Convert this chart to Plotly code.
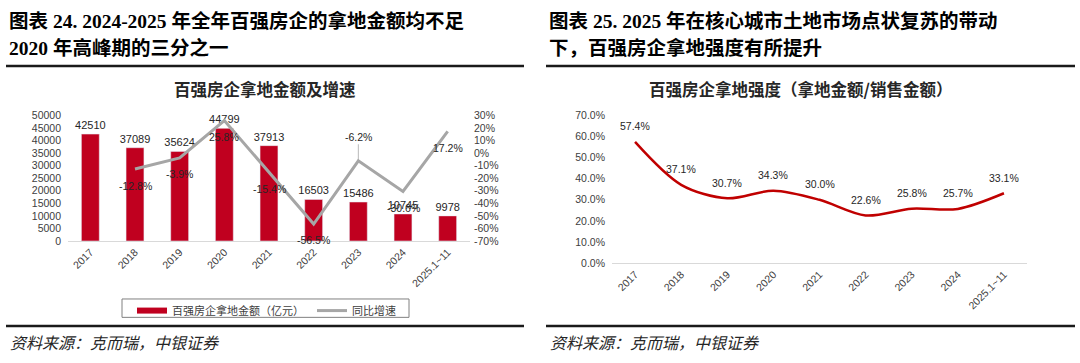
import plotly.graph_objects as go

# ---------------- data ----------------
categories = ["2017", "2018", "2019", "2020", "2021", "2022", "2023", "2024", "2025.1~11"]
land_amount = [42510, 37089, 35624, 44799, 37913, 16503, 15486, 10745, 9978]          # 亿元
yoy_growth = [None, -12.8, -3.9, 25.8, -15.4, -56.5, -6.2, -30.6, 17.2]                # %
land_intensity = [57.4, 37.1, 30.7, 34.3, 30.0, 22.6, 25.8, 25.7, 33.1]                # %

left_y_ticks = list(range(0, 50001, 5000))
right_y2_ticks = list(range(-70, 31, 10))
intensity_ticks = list(range(0, 71, 10))

# ---------------- style ----------------
W, H = 1080, 363
RED_BAR = "#C0001F"
RED_LINE = "#C00000"
GREY_LINE = "#A6A6A6"
TXT = "#404040"
LAB = "#262626"
SANS = "Liberation Sans, Noto Sans CJK SC, sans-serif"
CJK = "Noto Sans CJK SC, Liberation Sans, sans-serif"
SERIF = "Liberation Serif, Noto Sans CJK SC, serif"


def px(x):
    return x / W


def py(y):
    return 1 - y / H


fig = go.Figure()

# left chart: bars
fig.add_trace(go.Bar(
    x=categories, y=land_amount, marker_color=RED_BAR, width=0.4,
    text=[str(v) for v in land_amount], textposition="outside", constraintext="none",
    textfont=dict(size=11, color=LAB, family=SANS), cliponaxis=False,
    showlegend=False, xaxis="x", yaxis="y", hoverinfo="skip",
))
# left chart: yoy line
fig.add_trace(go.Scatter(
    x=categories, y=yoy_growth, mode="lines", line=dict(color=GREY_LINE, width=3),
    showlegend=False, xaxis="x", yaxis="y2", cliponaxis=False, hoverinfo="skip",
))
# legend proxies
fig.add_trace(go.Scatter(
    x=[None], y=[None], mode="lines", line=dict(color=RED_BAR, width=6),
    name="百强房企拿地金额（亿元）", xaxis="x", yaxis="y", legend="legend",
))
fig.add_trace(go.Scatter(
    x=[None], y=[None], mode="lines", line=dict(color=GREY_LINE, width=3),
    name="同比增速", xaxis="x", yaxis="y2", legend="legend2",
))

# right chart: intensity line
fig.add_trace(go.Scatter(
    x=categories, y=land_intensity, mode="lines",
    line=dict(color=RED_LINE, width=2.5, shape="spline", smoothing=0.9),
    showlegend=False, xaxis="x2", yaxis="y3", hoverinfo="skip",
))

annotations = []
# yoy labels (x given as category index)
labels_above = {"2023"}
for i, (c, v) in enumerate(zip(categories, yoy_growth)):
    if v is None:
        continue
    if c in labels_above:
        annotations.append(dict(
            x=i, y=v, xref="x", yref="y2", text=f"{v:.1f}%", showarrow=True,
            arrowhead=0, arrowwidth=0.8, arrowcolor="#A6A6A6", ax=0, ay=-24,
            font=dict(size=10.5, color=LAB, family=SANS),
        ))
    else:
        annotations.append(dict(
            x=i, y=v, xref="x", yref="y2", text=f"{v:.1f}%", showarrow=False,
            yshift=-16.5, font=dict(size=10.5, color=LAB, family=SANS),
        ))
# intensity labels
for i, v in enumerate(land_intensity):
    annotations.append(dict(
        x=i, y=v, xref="x2", yref="y3", text=f"{v:.1f}%", showarrow=False,
        yshift=15.5, font=dict(size=10.5, color=LAB, family=SANS),
    ))

# headings
TS = 19.5
annotations += [
    dict(x=px(7), y=py(16), xref="paper", yref="paper", xanchor="left", yanchor="middle",
         text="<b>图表 24. 2024-2025 年全年百强房企的拿地金额均不足</b>", showarrow=False,
         font=dict(size=TS, color="#000000", family=SERIF)),
    dict(x=px(7), y=py(43), xref="paper", yref="paper", xanchor="left", yanchor="middle",
         text="<b>2020 年高峰期的三分之一</b>", showarrow=False,
         font=dict(size=TS, color="#000000", family=SERIF)),
    dict(x=px(547), y=py(16), xref="paper", yref="paper", xanchor="left", yanchor="middle",
         text="<b>图表 25. 2025 年在核心城市土地市场点状复苏的带动</b>", showarrow=False,
         font=dict(size=TS, color="#000000", family=SERIF)),
    dict(x=px(547), y=py(43), xref="paper", yref="paper", xanchor="left", yanchor="middle",
         text="<b>下，百强房企拿地强度有所提升</b>", showarrow=False,
         font=dict(size=TS, color="#000000", family=SERIF)),
    dict(x=px(265), y=py(86), xref="paper", yref="paper", xanchor="center", yanchor="middle",
         text="<b>百强房企拿地金额及增速</b>", showarrow=False,
         font=dict(size=16.5, color=LAB, family=CJK)),
    dict(x=px(800), y=py(86), xref="paper", yref="paper", xanchor="center", yanchor="middle",
         text="<b>百强房企拿地强度（拿地金额/销售金额）</b>", showarrow=False,
         font=dict(size=16.5, color=LAB, family=CJK)),
    dict(x=px(8), y=py(348), xref="paper", yref="paper", xanchor="left", yanchor="middle",
         text="<i>资料来源：克而瑞，中银证券</i>", showarrow=False,
         font=dict(size=16, color=LAB, family=CJK)),
    dict(x=px(548), y=py(348), xref="paper", yref="paper", xanchor="left", yanchor="middle",
         text="<i>资料来源：克而瑞，中银证券</i>", showarrow=False,
         font=dict(size=16, color=LAB, family=CJK)),
]

shapes = []
for x0, x1 in [(6, 524), (546, 1075)]:
    for yy in (62, 331):
        shapes.append(dict(type="line", xref="paper", yref="paper",
                           x0=px(x0), x1=px(x1), y0=py(yy), y1=py(yy),
                           line=dict(color="#1A1A1A", width=2.5)))
# legend frame
shapes.append(dict(type="rect", xref="paper", yref="paper",
                   x0=px(122), x1=px(409), y0=py(322), y1=py(303),
                   line=dict(color="#808080", width=1), fillcolor="rgba(0,0,0,0)"))

tickfont = dict(size=10.5, color=TXT, family=SANS)
xrange = [-0.5, len(categories) - 0.5]
legend_common = dict(orientation="h", xanchor="left", yanchor="top", y=py(300),
                     borderwidth=0, bgcolor="rgba(0,0,0,0)",
                     font=dict(size=11, color=TXT, family=CJK), itemwidth=30)

fig.update_layout(
    width=W, height=H, autosize=False,
    margin=dict(l=0, r=0, t=0, b=0),
    paper_bgcolor="white", plot_bgcolor="white",
    font=dict(family=SANS, color=TXT),
    bargap=0.6,
    xaxis=dict(domain=[px(68), px(470)], type="category", range=xrange, tickangle=-45,
               tickfont=tickfont, showline=True, linecolor="#D9D9D9", linewidth=1,
               ticks="", showgrid=False, anchor="y"),
    yaxis=dict(domain=[py(243), py(113)], range=[0, 50000], tickvals=left_y_ticks,
               ticktext=[str(v) for v in left_y_ticks],
               tickfont=tickfont, showgrid=False, zeroline=False, ticks="",
               ticklabelstandoff=6, anchor="x"),
    yaxis2=dict(overlaying="y", side="right", range=[-70, 30], tickvals=right_y2_ticks,
                ticktext=[f"{v}%" for v in right_y2_ticks],
                tickfont=tickfont, showgrid=False, zeroline=False,
                ticks="", anchor="x", ticklabelstandoff=3),
    xaxis2=dict(domain=[px(612), px(1027)], type="category", range=xrange, tickangle=-45,
                tickfont=tickfont, showline=True, linecolor="#D9D9D9", linewidth=1,
                ticks="", showgrid=False, anchor="y3"),
    yaxis3=dict(domain=[py(266), py(113)], range=[0, 70], tickvals=intensity_ticks,
                ticktext=[f"{v:.1f}%" for v in intensity_ticks],
                tickfont=tickfont, showgrid=False,
                zeroline=False, ticks="", ticklabelstandoff=6, anchor="x2"),
    legend=dict(x=px(132), **legend_common),
    legend2=dict(x=px(312), **legend_common),
    annotations=annotations,
    shapes=shapes,
)

fig.write_html(
    "out.html",
    config={"displayModeBar": False},
    post_script="document.body.style.margin='0';document.body.style.overflow='hidden';",
)
